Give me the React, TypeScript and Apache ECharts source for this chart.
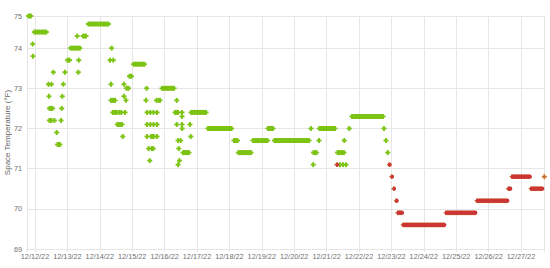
import React, { useEffect, useRef } from 'react';
import * as echarts from 'echarts';

// Time strings are "MM-DD HH:MM" in December 2022; values in °F.
const axisStart = '12-11 18:05';
const axisEnd = '12-27 17:25';

const dayLabels = [
  '12/12/22', '12/13/22', '12/14/22', '12/15/22', '12/16/22', '12/17/22', '12/18/22', '12/19/22',
  '12/20/22', '12/21/22', '12/22/22', '12/23/22', '12/24/22', '12/25/22', '12/26/22', '12/27/22',
];

// [start, end, value] : a run of readings holding one value (start === end for a single reading)
const greenRuns: [string, string, number][] = [
  ['12-11 19:12', '12-11 21:00', 74.8],
  ['12-11 22:18', '12-11 22:18', 74.1],
  ['12-11 22:30', '12-11 22:30', 73.8],
  ['12-11 23:30', '12-12 08:24', 74.4],
  ['12-12 10:00', '12-12 10:00', 73.1],
  ['12-12 12:12', '12-12 12:12', 73.1],
  ['12-12 10:24', '12-12 10:24', 72.8],
  ['12-12 10:42', '12-12 13:00', 72.5],
  ['12-12 10:42', '12-12 12:12', 72.2],
  ['12-12 14:24', '12-12 14:24', 72.2],
  ['12-12 13:36', '12-12 13:36', 73.4],
  ['12-12 16:06', '12-12 16:06', 71.9],
  ['12-12 16:42', '12-12 18:30', 71.6],
  ['12-12 19:18', '12-12 19:18', 72.2],
  ['12-12 19:48', '12-12 19:48', 72.5],
  ['12-12 20:12', '12-12 20:12', 72.8],
  ['12-12 21:00', '12-12 21:00', 73.1],
  ['12-12 22:12', '12-12 22:12', 73.4],
  ['12-13 00:06', '12-13 01:36', 73.7],
  ['12-13 02:18', '12-13 09:18', 74.0],
  ['12-13 07:18', '12-13 07:18', 74.3],
  ['12-13 08:06', '12-13 08:06', 73.4],
  ['12-13 08:24', '12-13 08:24', 73.7],
  ['12-13 11:36', '12-13 13:48', 74.3],
  ['12-13 15:36', '12-14 06:24', 74.6],
  ['12-14 08:48', '12-14 08:48', 74.0],
  ['12-14 07:36', '12-14 07:36', 73.7],
  ['12-14 10:00', '12-14 10:00', 73.7],
  ['12-14 08:18', '12-14 08:18', 73.1],
  ['12-14 08:18', '12-14 11:18', 72.7],
  ['12-14 09:36', '12-14 12:36', 72.4],
  ['12-14 14:30', '12-14 14:30', 72.4],
  ['12-14 16:00', '12-14 16:00', 72.4],
  ['12-14 18:42', '12-14 18:42', 72.4],
  ['12-14 13:00', '12-14 15:00', 72.1],
  ['12-14 16:30', '12-14 16:30', 72.1],
  ['12-14 17:00', '12-14 17:00', 71.8],
  ['12-14 17:54', '12-14 17:54', 73.1],
  ['12-14 17:54', '12-14 17:54', 72.8],
  ['12-14 19:24', '12-14 19:24', 72.7],
  ['12-14 19:48', '12-14 21:18', 73.0],
  ['12-14 22:00', '12-14 23:30', 73.3],
  ['12-15 01:00', '12-15 09:06', 73.6],
  ['12-15 10:42', '12-15 10:42', 73.0],
  ['12-15 10:12', '12-15 10:12', 72.7],
  ['12-15 18:00', '12-15 18:00', 72.7],
  ['12-15 19:30', '12-15 20:36', 72.7],
  ['12-15 11:00', '12-15 11:00', 72.4],
  ['12-15 13:24', '12-15 13:24', 72.4],
  ['12-15 15:48', '12-15 15:48', 72.4],
  ['12-15 18:24', '12-15 18:24', 72.4],
  ['12-15 11:00', '12-15 11:00', 72.1],
  ['12-15 13:24', '12-15 13:24', 72.1],
  ['12-15 15:48', '12-15 15:48', 72.1],
  ['12-15 18:24', '12-15 18:24', 72.1],
  ['12-15 11:00', '12-15 11:00', 71.8],
  ['12-15 14:00', '12-15 16:00', 71.8],
  ['12-15 18:24', '12-15 18:24', 71.8],
  ['12-15 12:12', '12-15 12:12', 71.5],
  ['12-15 14:30', '12-15 15:36', 71.5],
  ['12-15 13:00', '12-15 13:00', 71.2],
  ['12-15 22:06', '12-16 07:00', 73.0],
  ['12-16 09:00', '12-16 09:00', 72.7],
  ['12-16 07:42', '12-16 10:00', 72.4],
  ['12-16 12:54', '12-16 12:54', 72.4],
  ['12-16 12:54', '12-16 12:54', 72.3],
  ['12-16 09:00', '12-16 09:00', 72.1],
  ['12-16 12:54', '12-16 12:54', 72.1],
  ['12-16 18:48', '12-16 18:48', 72.1],
  ['12-16 13:00', '12-16 13:00', 72.0],
  ['12-16 19:24', '12-16 19:24', 71.8],
  ['12-16 10:00', '12-16 10:00', 71.7],
  ['12-16 11:54', '12-16 11:54', 71.7],
  ['12-16 10:30', '12-16 10:30', 71.5],
  ['12-16 13:36', '12-16 18:06', 71.4],
  ['12-16 11:00', '12-16 11:00', 71.2],
  ['12-16 10:00', '12-16 10:00', 71.1],
  ['12-16 19:36', '12-17 06:42', 72.4],
  ['12-17 08:06', '12-18 01:36', 72.0],
  ['12-18 03:24', '12-18 06:00', 71.7],
  ['12-18 06:42', '12-18 16:00', 71.4],
  ['12-18 17:30', '12-19 04:12', 71.7],
  ['12-19 04:36', '12-19 08:18', 72.0],
  ['12-19 09:24', '12-20 11:00', 71.7],
  ['12-20 12:24', '12-20 12:24', 72.0],
  ['12-20 14:06', '12-20 14:06', 71.1],
  ['12-20 14:18', '12-20 16:30', 71.4],
  ['12-20 18:24', '12-20 18:24', 71.7],
  ['12-20 18:42', '12-21 06:12', 72.0],
  ['12-21 08:06', '12-21 12:54', 71.4],
  ['12-21 09:54', '12-21 09:54', 71.1],
  ['12-21 12:06', '12-21 12:06', 71.1],
  ['12-21 14:24', '12-21 14:24', 71.1],
  ['12-21 13:06', '12-21 13:06', 71.7],
  ['12-21 16:48', '12-21 16:48', 72.0],
  ['12-21 18:48', '12-22 17:48', 72.3],
  ['12-22 18:30', '12-22 18:30', 72.0],
  ['12-22 20:00', '12-22 20:00', 71.7],
  ['12-22 21:18', '12-22 21:18', 71.4],
];

const redRuns: [string, string, number][] = [
  ['12-21 07:30', '12-21 07:30', 71.1],
  ['12-22 22:24', '12-22 22:24', 71.1],
  ['12-23 00:12', '12-23 00:12', 70.8],
  ['12-23 01:42', '12-23 01:42', 70.5],
  ['12-23 03:36', '12-23 03:36', 70.2],
  ['12-23 04:42', '12-23 07:36', 69.9],
  ['12-23 08:36', '12-24 14:54', 69.6],
  ['12-24 16:24', '12-25 13:54', 69.9],
  ['12-25 15:24', '12-26 13:36', 70.2],
  ['12-26 14:42', '12-26 15:48', 70.5],
  ['12-26 17:18', '12-27 06:18', 70.8],
  ['12-27 07:24', '12-27 15:30', 70.5],
];

const lastReading: [string, number] = ['12-27 17:18', 70.8];

const GREEN = '#7cc313';
const RED = '#cc3535';
const ORANGE = '#c8722e';
const GRID = '#e6e6e6';
const TEXT = '#707070';
const FONT = '"Liberation Sans", Arial, sans-serif';

function toHours(s: string): number {
  const [md, hm] = s.split(' ');
  const d = Number(md.split('-')[1]);
  const [hh, mm] = hm.split(':').map(Number);
  return (d - 12) * 24 + hh + mm / 60;
}

function crossBar(a: number[], b: number[], color: string, half = 2.5, th = 1.9) {
  const w = b[0] - a[0];
  return [
    { type: 'rect', shape: { x: a[0] - th / 2, y: a[1] - half, width: w + th, height: half * 2 }, style: { fill: color } },
    { type: 'rect', shape: { x: a[0] - half, y: a[1] - th / 2, width: w + half * 2, height: th }, style: { fill: color } },
  ];
}

export default function App() {
  const ref = useRef<HTMLDivElement>(null);
  useEffect(() => {
    if (!ref.current) return;
    const chart = echarts.init(ref.current, undefined, { renderer: 'svg' });
    const green = greenRuns.map((r) => [toHours(r[0]), toHours(r[1]), r[2]]);
    const red = redRuns.map((r) => [toHours(r[0]), toHours(r[1]), r[2]]);
    const last = [[toHours(lastReading[0]), toHours(lastReading[0]), lastReading[1]]];
    chart.setOption({
      animation: false,
      grid: { left: 27, right: 5.5, top: 16, bottom: 19, containLabel: false, outerBoundsMode: 'none' },
      xAxis: {
        type: 'value',
        min: toHours(axisStart),
        max: toHours(axisEnd),
        minInterval: 24,
        maxInterval: 24,
        axisLine: { show: true, lineStyle: { color: GRID } },
        axisTick: { show: true, length: 3, lineStyle: { color: GRID } },
        splitLine: { show: true, lineStyle: { color: GRID, width: 1 } },
        axisLabel: {
          interval: 0,
          color: TEXT,
          fontSize: 7.3,
          fontFamily: FONT,
          margin: 4,
          formatter: (v: number) => {
            const i = Math.round(v / 24);
            return Math.abs(v - i * 24) < 1e-6 && dayLabels[i] ? dayLabels[i] : '';
          },
        },
      },
      yAxis: {
        type: 'value',
        min: 69,
        max: 74.8,
        interval: 1,
        name: 'Space Temperature (°F)',
        nameLocation: 'middle',
        nameGap: 16,
        nameMoveOverlap: false,
        nameTextStyle: { color: '#666', fontSize: 8, fontFamily: FONT },
        axisLine: { show: true, lineStyle: { color: GRID } },
        axisTick: { show: true, length: 3, lineStyle: { color: GRID } },
        splitLine: { show: true, lineStyle: { color: GRID, width: 1 } },
        axisLabel: {
          color: TEXT,
          fontSize: 7.3,
          fontFamily: FONT,
          margin: 5,
          formatter: (v: number) => String(Math.round(v)),
        },
      },
      series: [
        {
          type: 'custom',
          name: 'Space Temperature',
          clip: false,
          encode: { x: [0, 1], y: 2 },
          data: green,
          renderItem: (_p: any, api: any) => {
            const v = api.value(2);
            const a = api.coord([api.value(0), v]);
            const b = api.coord([api.value(1), v]);
            return { type: 'group', children: crossBar(a, b, GREEN) };
          },
        },
        {
          type: 'custom',
          name: 'Alarm',
          clip: false,
          encode: { x: [0, 1], y: 2 },
          data: red,
          renderItem: (_p: any, api: any) => {
            const v = api.value(2);
            const a = api.coord([api.value(0), v]);
            const b = api.coord([api.value(1), v]);
            const w = b[0] - a[0];
            return {
              type: 'group',
              children: [
                ...crossBar(a, b, ORANGE, 2.3, 1.4),
                { type: 'rect', shape: { x: a[0] - 1.2, y: a[1] - 2, width: w + 3.4, height: 4, r: 1.4 }, style: { fill: RED } },
              ],
            };
          },
        },
        {
          type: 'custom',
          name: 'Last',
          clip: false,
          encode: { x: [0, 1], y: 2 },
          data: last,
          renderItem: (_p: any, api: any) => {
            const v = api.value(2);
            const a = api.coord([api.value(0), v]);
            const b = api.coord([api.value(1), v]);
            return { type: 'group', children: crossBar(a, b, ORANGE, 2.5, 1.8) };
          },
        },
      ],
    });
    return () => chart.dispose();
  }, []);
  return <div ref={ref} style={{ width: 550, height: 268, position: 'absolute', left: 0, top: 0 }} />;
}
